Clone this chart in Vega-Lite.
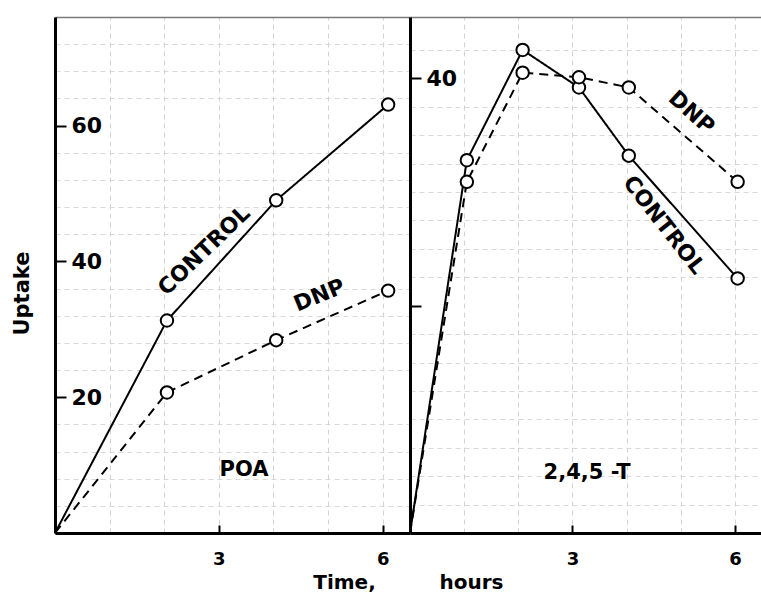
{
  "$schema": "https://vega.github.io/schema/vega-lite/v6.json",
  "autosize": {"type": "pad"},
  "padding": {"left": 11, "top": 17, "right": 0, "bottom": 0},
  "background": "white",
  "spacing": 0,
  "bounds": "flush",
  "config": {
    "view": {"stroke": null},
    "font": "DejaVu Sans",
    "axis": {"labelColor": "black", "titleColor": "black", "labelFont": "DejaVu Sans", "titleFont": "DejaVu Sans"}
  },
  "datasets": {
    "obs": [
      {"panel": "POA", "series": "CONTROL", "time": 0, "uptake": 0},
      {"panel": "POA", "series": "CONTROL", "time": 2.05, "uptake": 31.3},
      {"panel": "POA", "series": "CONTROL", "time": 4.05, "uptake": 49.0},
      {"panel": "POA", "series": "CONTROL", "time": 6.1, "uptake": 63.1},
      {"panel": "POA", "series": "DNP", "time": 0, "uptake": 0},
      {"panel": "POA", "series": "DNP", "time": 2.05, "uptake": 20.7},
      {"panel": "POA", "series": "DNP", "time": 4.05, "uptake": 28.4},
      {"panel": "POA", "series": "DNP", "time": 6.1, "uptake": 35.7},
      {"panel": "245T", "series": "CONTROL", "time": 0, "uptake": 0},
      {"panel": "245T", "series": "CONTROL", "time": 1.05, "uptake": 32.8},
      {"panel": "245T", "series": "CONTROL", "time": 2.08, "uptake": 42.5},
      {"panel": "245T", "series": "CONTROL", "time": 3.12, "uptake": 39.2},
      {"panel": "245T", "series": "CONTROL", "time": 4.04, "uptake": 33.2},
      {"panel": "245T", "series": "CONTROL", "time": 6.05, "uptake": 22.4},
      {"panel": "245T", "series": "DNP", "time": 0, "uptake": 0},
      {"panel": "245T", "series": "DNP", "time": 1.05, "uptake": 30.9},
      {"panel": "245T", "series": "DNP", "time": 2.08, "uptake": 40.5},
      {"panel": "245T", "series": "DNP", "time": 3.12, "uptake": 40.1},
      {"panel": "245T", "series": "DNP", "time": 4.04, "uptake": 39.2},
      {"panel": "245T", "series": "DNP", "time": 6.05, "uptake": 30.9}
    ],
    "labels": [
      {"panel": "POA", "key": "title", "label": "POA", "time": 3.46, "uptake": 9.3},
      {"panel": "POA", "key": "control", "label": "CONTROL", "time": 2.73, "uptake": 41.6},
      {"panel": "POA", "key": "dnp", "label": "DNP", "time": 4.84, "uptake": 35.0},
      {"panel": "245T", "key": "title", "label": "2,4,5 -T", "time": 3.27, "uptake": 5.3},
      {"panel": "245T", "key": "control", "label": "CONTROL", "time": 4.69, "uptake": 27.1},
      {"panel": "245T", "key": "dnp", "label": "DNP", "time": 5.2, "uptake": 37.0}
    ]
  },
  "hconcat": [
    {
      "width": 355,
      "height": 516,
      "resolve": {"axis": {"x": "independent", "y": "independent"}},
      "layer": [
        {
          "data": {"name": "obs"},
          "transform": [{"filter": "datum.panel == 'POA'"}],
          "mark": {"type": "point", "opacity": 0},
          "encoding": {
            "x": {"field": "time", "type": "quantitative", "scale": {"domain": [0, 6.5], "nice": false},
              "axis": {"orient": "top", "values": [1, 2, 3, 4, 5, 6], "grid": true, "gridColor": "#d2d2d2", "gridDash": [5, 4], "gridWidth": 1, "labels": false, "ticks": false, "domain": true, "domainColor": "#7a7a7a", "domainWidth": 1.5, "title": null}},
            "y": {"field": "uptake", "type": "quantitative", "scale": {"domain": [0, 76], "nice": false},
              "axis": {"orient": "left", "values": [4, 8, 12, 16, 24, 28, 32, 36, 44, 48, 52, 56, 64, 68, 72], "grid": true, "gridColor": "#d8d8d8", "gridDash": [5, 4], "gridWidth": 1, "labels": false, "ticks": false, "domain": false, "title": null}}
          }
        },
        {
          "data": {"name": "obs"},
          "transform": [{"filter": "datum.panel == 'POA'"}],
          "mark": {"type": "line", "stroke": "black", "strokeWidth": 2},
          "encoding": {
            "x": {"field": "time", "type": "quantitative",
              "axis": {"orient": "bottom", "values": [3, 6], "format": "d", "grid": false, "tickSize": -8, "tickWidth": 2, "tickColor": "black", "labelPadding": 25, "labelFontSize": 18, "labelFontWeight": "bold", "domainColor": "black", "domainWidth": 3, "title": "Time,", "titleFontSize": 20, "titleFontWeight": "bold", "titleX": 289, "titleY": 55, "titleAlign": "center", "titleBaseline": "alphabetic", "zindex": 1}},
            "y": {"field": "uptake", "type": "quantitative",
              "axis": {"orient": "left", "values": [20, 40, 60], "format": "d", "grid": false, "tickSize": -11, "tickWidth": 2, "tickColor": "black", "labelPadding": -5, "labelAlign": "left", "labelBaseline": "middle", "labelFontSize": 22, "labelFontWeight": "bold", "domainColor": "black", "domainWidth": 3, "title": "Uptake", "titleFontSize": 21, "titleFontWeight": "bold", "titleX": -27, "titleY": 276, "titleAngle": 270, "titleAlign": "center", "titleBaseline": "alphabetic", "zindex": 1}},
            "strokeDash": {"field": "series", "type": "nominal", "scale": {"domain": ["CONTROL", "DNP"], "range": [[1, 0], [9, 6]]}, "legend": null}
          }
        },
        {
          "data": {"name": "obs"},
          "transform": [{"filter": "datum.panel == 'POA' && datum.time > 0"}],
          "mark": {"type": "point", "shape": "circle", "size": 155, "fill": "white", "fillOpacity": 1, "stroke": "black", "strokeWidth": 2, "filled": false},
          "encoding": {
            "x": {"field": "time", "type": "quantitative", "axis": null},
            "y": {"field": "uptake", "type": "quantitative", "axis": null}
          }
        },
        {
          "data": {"name": "labels"},
          "transform": [{"filter": "datum.panel == 'POA' && datum.key == 'title'"}],
          "mark": {"type": "text", "fontSize": 21, "fontWeight": "bold", "align": "center", "baseline": "middle", "color": "black"},
          "encoding": {
            "x": {"field": "time", "type": "quantitative", "axis": null},
            "y": {"field": "uptake", "type": "quantitative", "axis": null},
            "text": {"field": "label"}
          }
        },
        {
          "data": {"name": "labels"},
          "transform": [{"filter": "datum.panel == 'POA' && datum.key == 'control'"}],
          "mark": {"type": "text", "fontSize": 22, "fontWeight": "bold", "align": "center", "baseline": "middle", "angle": 316, "color": "black"},
          "encoding": {
            "x": {"field": "time", "type": "quantitative", "axis": null},
            "y": {"field": "uptake", "type": "quantitative", "axis": null},
            "text": {"field": "label"}
          }
        },
        {
          "data": {"name": "labels"},
          "transform": [{"filter": "datum.panel == 'POA' && datum.key == 'dnp'"}],
          "mark": {"type": "text", "fontSize": 22, "fontWeight": "bold", "align": "center", "baseline": "middle", "angle": 338, "color": "black"},
          "encoding": {
            "x": {"field": "time", "type": "quantitative", "axis": null},
            "y": {"field": "uptake", "type": "quantitative", "axis": null},
            "text": {"field": "label"}
          }
        }
      ]
    },
    {
      "width": 352,
      "height": 516,
      "resolve": {"axis": {"x": "independent", "y": "independent"}},
      "layer": [
        {
          "data": {"name": "obs"},
          "transform": [{"filter": "datum.panel == '245T'"}],
          "mark": {"type": "point", "opacity": 0},
          "encoding": {
            "x": {"field": "time", "type": "quantitative", "scale": {"domain": [0, 6.5], "nice": false},
              "axis": {"orient": "top", "values": [1, 2, 3, 4, 5, 6], "grid": true, "gridColor": "#d2d2d2", "gridDash": [5, 4], "gridWidth": 1, "labels": false, "ticks": false, "domain": true, "domainColor": "#7a7a7a", "domainWidth": 1.5, "title": null}},
            "y": {"field": "uptake", "type": "quantitative", "scale": {"domain": [0, 45.4], "nice": false},
              "axis": {"orient": "left", "values": [2.5, 5, 7.5, 10, 12.5, 15, 17.5, 22.5, 25, 27.5, 30, 32.5, 35, 37.5, 42.5], "grid": true, "gridColor": "#d8d8d8", "gridDash": [5, 4], "gridWidth": 1, "labels": false, "ticks": false, "domain": false, "title": null}}
          }
        },
        {
          "data": {"name": "obs"},
          "transform": [{"filter": "datum.panel == '245T'"}],
          "mark": {"type": "line", "stroke": "black", "strokeWidth": 2},
          "encoding": {
            "x": {"field": "time", "type": "quantitative",
              "axis": {"orient": "bottom", "values": [3, 6], "format": "d", "grid": false, "tickSize": -8, "tickWidth": 2, "tickColor": "black", "labelPadding": 25, "labelFontSize": 18, "labelFontWeight": "bold", "domainColor": "black", "domainWidth": 3, "title": "hours", "titleFontSize": 20, "titleFontWeight": "bold", "titleX": 61, "titleY": 55, "titleAlign": "center", "titleBaseline": "alphabetic", "zindex": 1}},
            "y": {"field": "uptake", "type": "quantitative",
              "axis": {"orient": "left", "values": [20, 40], "labelExpr": "datum.value == 40 ? '40' : ''", "grid": false, "tickSize": -11, "tickWidth": 2, "tickColor": "black", "labelPadding": -5, "labelAlign": "left", "labelBaseline": "middle", "labelFontSize": 22, "labelFontWeight": "bold", "domainColor": "black", "domainWidth": 3, "title": null, "zindex": 1}},
            "strokeDash": {"field": "series", "type": "nominal", "scale": {"domain": ["CONTROL", "DNP"], "range": [[1, 0], [9, 6]]}, "legend": null}
          }
        },
        {
          "data": {"name": "obs"},
          "transform": [{"filter": "datum.panel == '245T' && datum.time > 0"}],
          "mark": {"type": "point", "shape": "circle", "size": 155, "fill": "white", "fillOpacity": 1, "stroke": "black", "strokeWidth": 2, "filled": false},
          "encoding": {
            "x": {"field": "time", "type": "quantitative", "axis": null},
            "y": {"field": "uptake", "type": "quantitative", "axis": null}
          }
        },
        {
          "data": {"name": "labels"},
          "transform": [{"filter": "datum.panel == '245T' && datum.key == 'title'"}],
          "mark": {"type": "text", "fontSize": 21, "fontWeight": "bold", "align": "center", "baseline": "middle", "color": "black"},
          "encoding": {
            "x": {"field": "time", "type": "quantitative", "axis": null},
            "y": {"field": "uptake", "type": "quantitative", "axis": null},
            "text": {"field": "label"}
          }
        },
        {
          "data": {"name": "labels"},
          "transform": [{"filter": "datum.panel == '245T' && datum.key == 'control'"}],
          "mark": {"type": "text", "fontSize": 22, "fontWeight": "bold", "align": "center", "baseline": "middle", "angle": 52, "color": "black"},
          "encoding": {
            "x": {"field": "time", "type": "quantitative", "axis": null},
            "y": {"field": "uptake", "type": "quantitative", "axis": null},
            "text": {"field": "label"}
          }
        },
        {
          "data": {"name": "labels"},
          "transform": [{"filter": "datum.panel == '245T' && datum.key == 'dnp'"}],
          "mark": {"type": "text", "fontSize": 22, "fontWeight": "bold", "align": "center", "baseline": "middle", "angle": 42, "color": "black"},
          "encoding": {
            "x": {"field": "time", "type": "quantitative", "axis": null},
            "y": {"field": "uptake", "type": "quantitative", "axis": null},
            "text": {"field": "label"}
          }
        }
      ]
    }
  ]
}
